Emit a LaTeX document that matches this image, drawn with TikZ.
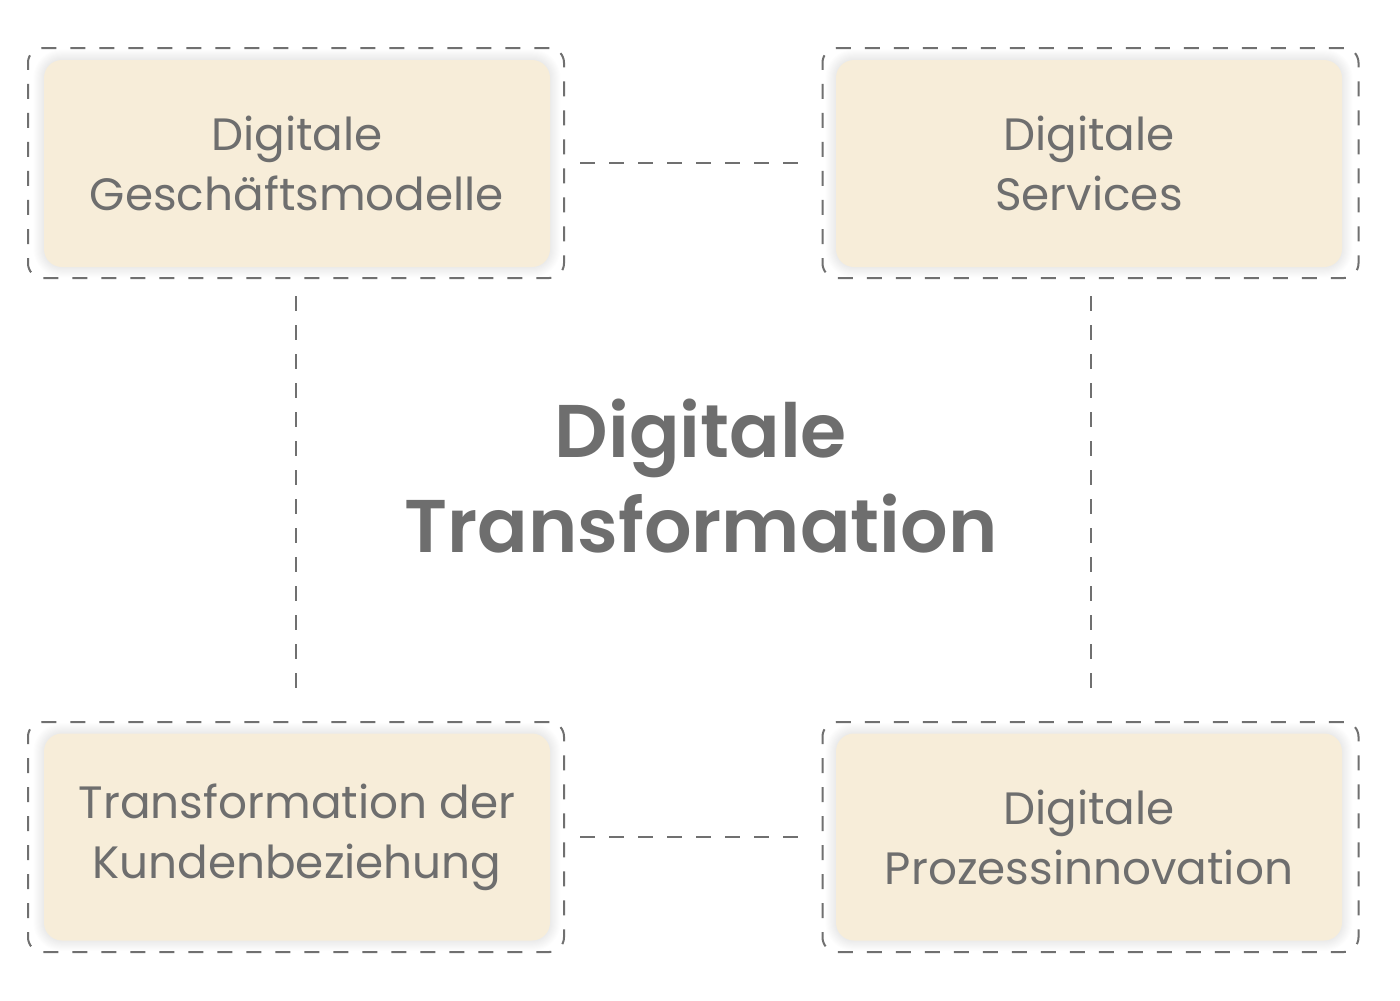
\documentclass[tikz,border=0pt]{standalone}
\usepackage{fontspec}
\setmainfont{Poppins}
\newfontfamily\titlefont{Poppins}[UprightFont = * SemiBold]
\definecolor{ink}{HTML}{6E6E6E}
\definecolor{cream}{HTML}{F7EDD9}
\definecolor{lineg}{HTML}{707070}
\newcommand\softshadow[1]{%
  \foreach \k in {1,...,10}{%
    \pgfmathsetmacro\rw{379.5+\k*1.6}%
    \pgfmathsetmacro\rh{155.25+\k*1.6}%
    \pgfmathsetmacro\rr{13.5+\k*0.8}%
    \node[fill=black, fill opacity=0.009, draw=none, inner sep=0pt, outer sep=0pt,
          rounded corners=\rr pt, minimum width=\rw pt, minimum height=\rh pt] at (#1) {};
  }}
\begin{document}
\begin{tikzpicture}[x=0.75pt,y=-0.75pt,
  frame/.style={draw=lineg, line width=1.5pt, dash pattern=on 11.25pt off 10.5pt,
    rounded corners=11pt, minimum width=402pt, minimum height=172.5pt,
    inner sep=0pt, outer sep=0pt},
  card/.style={fill=cream, draw=none, rounded corners=13.5pt,
    minimum width=379.5pt, minimum height=155.25pt, inner sep=0pt, outer sep=0pt,
    align=center, text=ink, font=\fontsize{34}{45}\selectfont},
  conn/.style={draw=lineg, line width=1.5pt, dash pattern=on 11.25pt off 10.5pt},
  title/.style={align=center, text=ink, font=\titlefont\fontsize{56}{71}\selectfont}
]
\useasboundingbox (0,0) rectangle (1400,1000);
\fill[white] (0,0) rectangle (1400,1000);
% frames
\node[frame] (fTL) at (296,163) {};
\node[frame] (fTR) at (1090.5,163) {};
\node[frame] (fBL) at (296,837) {};
\node[frame] (fBR) at (1090.5,837) {};
% shadows
\coordinate (cTL) at (297,163.5);
\coordinate (cTR) at (1089,163.5);
\coordinate (cBL) at (297,837);
\coordinate (cBR) at (1089,837);
\softshadow{cTL}
\softshadow{cTR}
\softshadow{cBL}
\softshadow{cBR}
% cards
\node[card] (bTL) at (cTL) {Digitale\\Geschäftsmodelle};
\node[card] (bTR) at (cTR) {Digitale\\Services};
\node[card] (bBL) at (cBL) {Transformation der\\Kundenbeziehung};
\node[card] (bBR) at (cBR) {Digitale\\Prozessinnovation};
% title
\node[title] (tt) at (701,476) {Digitale\\Transformation};
% connectors
\draw[conn, shorten <=12pt, shorten >=12.75pt] (fTL.east) -- (fTR.west);
\draw[conn, shorten <=12pt, shorten >=12.75pt] (fBL.east) -- (fBR.west);
\draw[conn, shorten <=13.5pt, shorten >=16.5pt] (fTL.south) -- (fBL.north);
\draw[conn, shorten <=13.5pt, shorten >=16.5pt] (fTR.south) -- (fBR.north);
\end{tikzpicture}
\end{document}
